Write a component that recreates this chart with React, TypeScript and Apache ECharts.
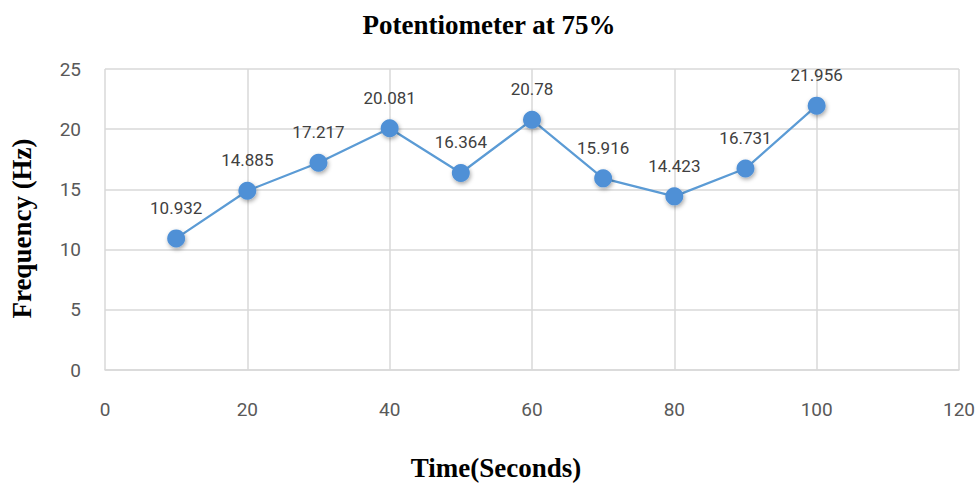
import React, { useEffect, useRef } from "react";
import * as echarts from "echarts";

const times = [10, 20, 30, 40, 50, 60, 70, 80, 90, 100];
const frequencies = [10.932, 14.885, 17.217, 20.081, 16.364, 20.78, 15.916, 14.423, 16.731, 21.956];
const titleText = "Potentiometer at 75%";
const xName = "Time(Seconds)";
const yName = "Frequency (Hz)";

export default function App() {
  const ref = useRef<HTMLDivElement>(null);
  useEffect(() => {
    if (!ref.current) return;
    const chart = echarts.init(ref.current, undefined, { renderer: "svg" });
    const data = times.map((t, i) => [t, frequencies[i]]);
    chart.setOption({
      animation: false,
      backgroundColor: "#ffffff",
      title: {
        text: titleText,
        left: "center",
        top: 6,
        textStyle: { fontFamily: "Liberation Serif", fontWeight: "bold", fontSize: 27, color: "#000000" },
      },
      grid: { left: 103, right: 19, top: 69, bottom: 113 },
      xAxis: {
        type: "value",
        min: 0,
        max: 120,
        interval: 20,
        name: xName,
        nameLocation: "middle",
        nameGap: 84,
        nameTextStyle: {
          fontFamily: "Liberation Serif",
          fontWeight: "bold",
          fontSize: 27,
          color: "#000000",
          padding: [0, 72, 0, 0],
        },
        axisLine: { show: true, lineStyle: { color: "#d9d9d9", width: 1.5 } },
        axisTick: { show: false },
        axisLabel: { fontFamily: "Roboto", fontSize: 19, color: "#595959", margin: 30 },
        splitLine: { show: true, lineStyle: { color: "#d9d9d9", width: 1.5 } },
      },
      yAxis: {
        type: "value",
        min: 0,
        max: 25,
        interval: 5,
        name: yName,
        nameLocation: "middle",
        nameGap: 70,
        nameTextStyle: {
          fontFamily: "Liberation Serif",
          fontWeight: "bold",
          fontSize: 27,
          color: "#000000",
          padding: [0, 18, 0, 0],
        },
        axisLine: { show: false },
        axisTick: { show: false },
        axisLabel: { fontFamily: "Roboto", fontSize: 19, color: "#595959", margin: 24 },
        splitLine: { show: true, lineStyle: { color: "#d9d9d9", width: 1.5 } },
      },
      series: [
        {
          type: "line",
          data,
          symbol: "circle",
          symbolSize: 18,
          lineStyle: { color: "#5b9bd5", width: 2.25 },
          itemStyle: {
            color: "#4f90d6",
            shadowColor: "rgba(0,0,0,0.35)",
            shadowBlur: 4,
            shadowOffsetX: 1,
            shadowOffsetY: 2,
          },
          label: {
            show: true,
            position: "top",
            distance: 13,
            fontFamily: "Roboto",
            fontSize: 17,
            color: "#404040",
            formatter: (p: any) => String(p.value[1]),
          },
        },
      ],
    });
    return () => chart.dispose();
  }, []);
  return <div ref={ref} style={{ position: "absolute", left: 0, top: 0, width: 978, height: 486 }} />;
}
